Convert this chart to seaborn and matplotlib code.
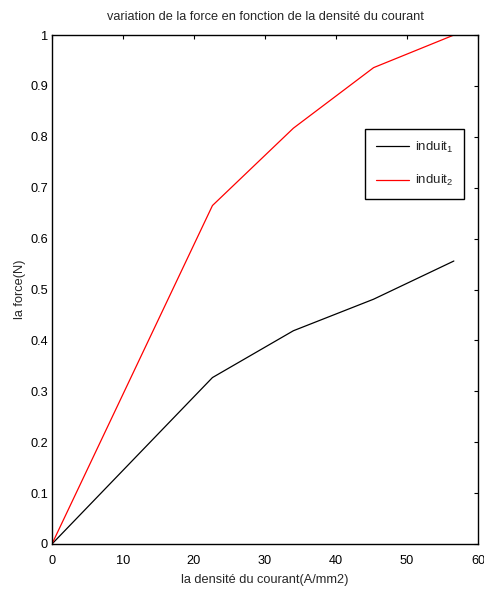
import pandas as pd
import matplotlib
matplotlib.use("Agg")
import matplotlib.pyplot as plt
import seaborn as sns

# data
densite = [0, 22.6, 34.0, 45.3, 56.6]
force_induit1 = [0, 0.327, 0.419, 0.481, 0.556]
force_induit2 = [0, 0.665, 0.817, 0.936, 1.0]
series_names = ["induit$_1$", "induit$_2$"]
series_colors = ["black", "red"]
x_ticks = [0, 10, 20, 30, 40, 50, 60]
y_ticks = [0, 0.1, 0.2, 0.3, 0.4, 0.5, 0.6, 0.7, 0.8, 0.9, 1]

df = pd.DataFrame({
    "J": densite * 2,
    "F": force_induit1 + force_induit2,
    "induit": [series_names[0]] * len(densite) + [series_names[1]] * len(densite),
})

sns.set_style("white")
plt.rcParams["font.family"] = ["Liberation Sans", "DejaVu Sans"]
plt.rcParams["mathtext.fontset"] = "custom"
plt.rcParams["mathtext.rm"] = "Liberation Sans"
plt.rcParams["mathtext.it"] = "Liberation Sans"

fig = plt.figure(figsize=(4.84, 5.94), dpi=100)
ax = fig.add_axes([0.1074, 0.0842, 0.8802, 0.8568])

sns.lineplot(data=df, x="J", y="F", hue="induit",
             palette=dict(zip(series_names, series_colors)),
             linewidth=0.9, ax=ax, legend=False)

ax.set_xlim(0, 60)
ax.set_ylim(0, 1)
ax.set_xticks(x_ticks)
ax.set_yticks(y_ticks)
ax.set_xticklabels([str(t) for t in x_ticks])
ax.set_yticklabels([f"{t:g}" for t in y_ticks])
ax.tick_params(direction="in", length=3, width=0.8, top=True, right=True,
               labelsize=9.2, pad=3, colors="black")
ax.tick_params(axis="x", pad=8)
for sp in ax.spines.values():
    sp.set_visible(True)
    sp.set_color("black")
    sp.set_linewidth(1.0)

ax.set_title("variation de la force en fonction de la densité du courant",
             fontsize=9.2, pad=11)
ax.set_xlabel("la densité du courant(A/mm2)", fontsize=9.2, labelpad=5)
ax.set_ylabel("la force(N)", fontsize=9.2, labelpad=3)

handles = [plt.Line2D([], [], color=c, linewidth=0.9) for c in series_colors]
leg = ax.legend(handles, series_names, loc="upper right",
                bbox_to_anchor=(0.968, 0.815), fancybox=False,
                edgecolor="black", fontsize=9.5, handlelength=2.5,
                handletextpad=0.5, borderpad=0.8,
                borderaxespad=0, labelspacing=1.4, framealpha=1)
leg.get_frame().set_linewidth(1.0)

plt.savefig("out.png", dpi=100)
plt.close()
